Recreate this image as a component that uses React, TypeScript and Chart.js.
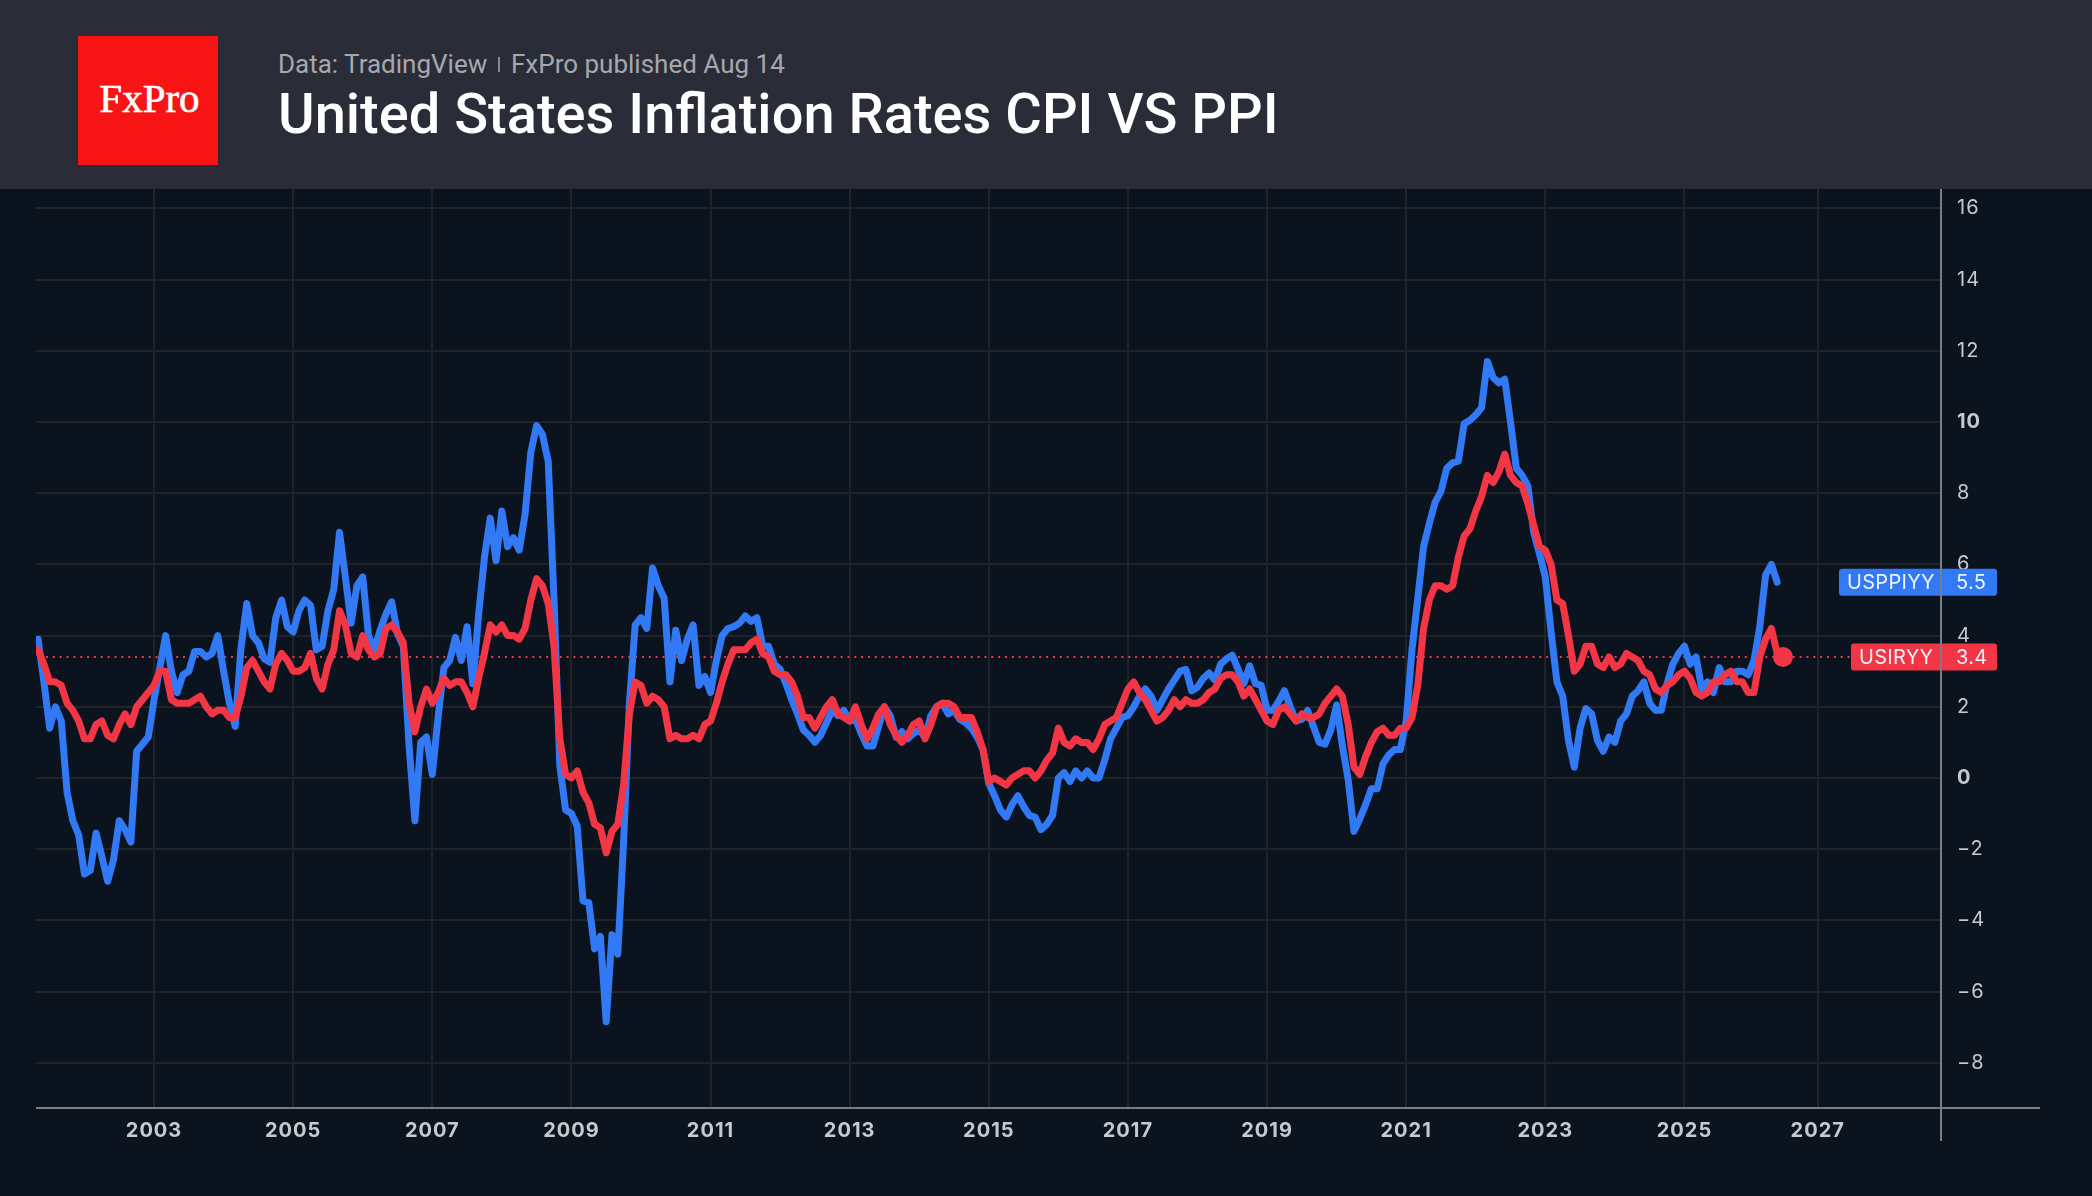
import React, { useEffect, useRef } from 'react';
import { Chart, registerables } from 'chart.js';

Chart.register(...registerables);

// months counted from Jan 2003, the series start in May 2001
const firstMonth = -20;

const ppiValues = [
  3.9, 2.7, 1.4, 2.0, 1.6, -0.4, -1.2, -1.6,
  -2.7, -2.6, -1.55, -2.2, -2.9, -2.3, -1.2, -1.45, -1.8, 0.75, 0.95, 1.15,
  2.2, 3.1, 4.0, 3.0, 2.4, 2.9, 3.0, 3.55, 3.55, 3.4, 3.5, 4.0,
  3.0, 2.1, 1.45, 3.65, 4.9, 4.0, 3.8, 3.35, 3.25, 4.5, 5.0, 4.25,
  4.1, 4.7, 5.0, 4.85, 3.6, 3.7, 4.7, 5.3, 6.9, 5.65, 4.35, 5.4,
  5.65, 4.0, 3.6, 4.15, 4.6, 4.95, 4.05, 3.7, 0.9, -1.2, 1.0, 1.15,
  0.1, 1.7, 3.1, 3.3, 3.95, 3.3, 4.25, 2.65, 4.6, 6.2, 7.3, 6.1,
  7.5, 6.5, 6.75, 6.4, 7.4, 9.15, 9.9, 9.65, 8.9, 5.0, 0.35, -0.9,
  -1.0, -1.35, -3.45, -3.5, -4.8, -4.45, -6.85, -4.4, -4.95, -1.8, 2.1, 4.3,
  4.5, 4.2, 5.9, 5.4, 5.05, 2.7, 4.15, 3.3, 3.9, 4.3, 2.6, 2.85,
  2.4, 3.3, 4.0, 4.2, 4.25, 4.35, 4.55, 4.4, 4.5, 3.7, 3.7, 3.2,
  3.05, 2.65, 2.2, 1.8, 1.35, 1.2, 1.0, 1.2, 1.55, 1.9, 1.75, 1.9,
  1.6, 1.65, 1.25, 0.9, 0.9, 1.45, 2.0, 1.75, 1.15, 1.3, 1.1, 1.25,
  1.35, 1.15, 1.75, 2.0, 2.1, 1.8, 1.9, 1.65, 1.55, 1.4, 1.15, 0.8,
  -0.15, -0.5, -0.9, -1.1, -0.75, -0.5, -0.8, -1.05, -1.1, -1.45, -1.3, -1.05,
  0.0, 0.15, -0.1, 0.2, 0.0, 0.2, 0.0, 0.0, 0.5, 1.1, 1.4, 1.7,
  1.75, 2.0, 2.3, 2.5, 2.3, 1.9, 2.2, 2.5, 2.75, 3.0, 3.05, 2.45,
  2.55, 2.8, 2.95, 2.75, 3.2, 3.35, 3.45, 3.05, 2.65, 3.15, 2.65, 2.6,
  1.9, 1.9, 2.15, 2.45, 2.0, 1.6, 1.65, 1.9, 1.45, 1.0, 0.95, 1.35,
  2.05, 0.9, -0.05, -1.5, -1.15, -0.75, -0.3, -0.3, 0.4, 0.65, 0.8, 0.8,
  1.6, 3.6, 5.05, 6.5, 7.15, 7.75, 8.05, 8.7, 8.85, 8.9, 9.95, 10.05,
  10.2, 10.4, 11.7, 11.25, 11.1, 11.2, 10.0, 8.7, 8.5, 8.2, 6.9, 6.3,
  5.65, 4.1, 2.7, 2.3, 1.05, 0.3, 1.4, 1.95, 1.8, 1.05, 0.75, 1.15,
  1.0, 1.6, 1.8, 2.3, 2.45, 2.7, 2.1, 1.9, 1.9, 2.65, 3.2, 3.5,
  3.7, 3.2, 3.4, 2.5, 2.7, 2.4, 3.1, 2.7, 2.7, 3.0, 3.0, 2.9,
  3.3, 4.25, 5.7, 6.0, 5.5,
];

const cpiValues = [
  3.6, 3.2, 2.7, 2.7, 2.6, 2.1, 1.9, 1.6,
  1.1, 1.1, 1.5, 1.6, 1.2, 1.1, 1.5, 1.8, 1.5, 2.0, 2.2, 2.4,
  2.6, 3.0, 3.0, 2.2, 2.1, 2.1, 2.1, 2.2, 2.3, 2.0, 1.8, 1.9,
  1.9, 1.7, 1.7, 2.3, 3.1, 3.3, 3.0, 2.7, 2.5, 3.2, 3.5, 3.3,
  3.0, 3.0, 3.1, 3.5, 2.8, 2.5, 3.2, 3.6, 4.7, 4.3, 3.5, 3.4,
  4.0, 3.6, 3.4, 3.5, 4.2, 4.3, 4.1, 3.8, 2.1, 1.3, 2.0, 2.5,
  2.1, 2.4, 2.8, 2.6, 2.7, 2.7, 2.4, 2.0, 2.8, 3.5, 4.3, 4.1,
  4.3, 4.0, 4.0, 3.9, 4.2, 5.0, 5.6, 5.4, 4.9, 3.7, 1.1, 0.1,
  0.0, 0.2, -0.4, -0.7, -1.3, -1.4, -2.1, -1.5, -1.3, -0.2, 1.8, 2.7,
  2.6, 2.1, 2.3, 2.2, 2.0, 1.1, 1.2, 1.1, 1.1, 1.2, 1.1, 1.5,
  1.6, 2.1, 2.7, 3.2, 3.6, 3.6, 3.6, 3.8, 3.9, 3.5, 3.4, 3.0,
  2.9, 2.9, 2.7, 2.3, 1.7, 1.7, 1.4, 1.7, 2.0, 2.2, 1.8, 1.7,
  1.6, 2.0, 1.5, 1.1, 1.4, 1.8, 2.0, 1.5, 1.2, 1.0, 1.2, 1.5,
  1.6, 1.1, 1.5, 2.0, 2.1, 2.1, 2.0, 1.7, 1.7, 1.7, 1.3, 0.8,
  -0.1, 0.0, -0.1, -0.2, 0.0, 0.1, 0.2, 0.2, 0.0, 0.2, 0.5, 0.7,
  1.4, 1.0, 0.9, 1.1, 1.0, 1.0, 0.8, 1.1, 1.5, 1.6, 1.7, 2.1,
  2.5, 2.7, 2.4, 2.2, 1.9, 1.6, 1.7, 1.9, 2.2, 2.0, 2.2, 2.1,
  2.1, 2.2, 2.4, 2.5, 2.8, 2.9, 2.9, 2.7, 2.3, 2.5, 2.2, 1.9,
  1.6, 1.5, 1.9, 2.0, 1.8, 1.6, 1.8, 1.7, 1.7, 1.8, 2.1, 2.3,
  2.5, 2.3, 1.5, 0.3, 0.1, 0.6, 1.0, 1.3, 1.4, 1.2, 1.2, 1.4,
  1.4, 1.7, 2.6, 4.2, 5.0, 5.4, 5.4, 5.3, 5.4, 6.2, 6.8, 7.0,
  7.5, 7.9, 8.5, 8.3, 8.6, 9.1, 8.5, 8.3, 8.2, 7.7, 7.1, 6.5,
  6.4, 6.0, 5.0, 4.9, 4.0, 3.0, 3.2, 3.7, 3.7, 3.2, 3.1, 3.4,
  3.1, 3.2, 3.5, 3.4, 3.3, 3.0, 2.9, 2.5, 2.4, 2.6, 2.7, 2.9,
  3.0, 2.8, 2.4, 2.3, 2.4, 2.7, 2.7, 2.9, 3.0, 2.7, 2.7, 2.4,
  2.4, 3.4, 3.9, 4.2, 3.5, 3.4,
];

const yearLabels = ['2003', '2005', '2007', '2009', '2011', '2013', '2015', '2017', '2019', '2021', '2023', '2025', '2027'];
const yearTicks = [0, 24, 48, 72, 96, 120, 144, 168, 192, 216, 240, 264, 287];
const valueTicks = [-8, -6, -4, -2, 0, 2, 4, 6, 8, 10, 12, 14, 16];
const boldValueTicks = [0, 10];

const PPI_NAME = 'USPPIYY';
const CPI_NAME = 'USIRYY';
const BLUE = '#3179f5';
const RED = '#f23645';
const AXIS_FONT = 'Inter, "Noto Sans", sans-serif';

const toPoints = (values: number[]) => values.map((y, i) => ({ x: firstMonth + i, y }));

// TradingView style tags on the price axis, plus the axis lines that run past the plot
const axisOverlay = {
  id: 'axisOverlay',
  beforeDraw(chart: any) {
    chart.ctx.letterSpacing = '1px';
  },
  afterDraw(chart: any) {
    const { ctx, chartArea, scales } = chart;
    const drawTag = (name: string, value: number, color: string, left: number) => {
      const y = scales.y.getPixelForValue(value);
      ctx.save();
      ctx.letterSpacing = '0.3px';
      ctx.fillStyle = color;
      ctx.beginPath();
      ctx.roundRect(left, y - 13.5, 1997 - left, 27, 3);
      ctx.fill();
      ctx.fillStyle = '#eef3fb';
      ctx.font = `20px ${AXIS_FONT}`;
      ctx.textBaseline = 'middle';
      ctx.textAlign = 'left';
      ctx.fillText(name, left + 8, y + 1);
      ctx.fillText(value.toFixed(1), 1956, y + 1);
      ctx.restore();
    };
    drawTag(PPI_NAME, ppiValues[ppiValues.length - 1], BLUE, 1839);
    drawTag(CPI_NAME, cpiValues[cpiValues.length - 1], RED, 1851);

    ctx.save();
    ctx.strokeStyle = '#7b7d84';
    ctx.lineWidth = 2;
    ctx.beginPath();
    ctx.moveTo(chartArea.left, chartArea.bottom);
    ctx.lineTo(2040, chartArea.bottom);
    ctx.moveTo(chartArea.right, chartArea.top);
    ctx.lineTo(chartArea.right, chartArea.bottom + 33);
    ctx.stroke();
    ctx.restore();
  },
};

export default function App() {
  const canvasRef = useRef<HTMLCanvasElement>(null);

  useEffect(() => {
    document.body.style.margin = '0';
    document.body.style.background = '#0b131f';
    if (!canvasRef.current) return;

    const lastCpi = cpiValues[cpiValues.length - 1];
    const chart = new Chart(canvasRef.current, {
      type: 'line',
      data: {
        datasets: [
          {
            label: CPI_NAME,
            data: toPoints(cpiValues),
            borderColor: RED,
            backgroundColor: RED,
            borderWidth: 7,
            borderJoinStyle: 'round',
            borderCapStyle: 'round',
            tension: 0,
            pointRadius: (ctx: any) => (ctx.dataIndex === cpiValues.length - 1 ? 10 : 0),
            pointBorderWidth: 0,
            order: 0,
          },
          {
            label: PPI_NAME,
            data: toPoints(ppiValues),
            borderColor: BLUE,
            borderWidth: 7,
            borderJoinStyle: 'round',
            borderCapStyle: 'round',
            tension: 0,
            pointRadius: 0,
            order: 1,
          },
          {
            label: 'last price',
            data: [
              { x: -21, y: lastCpi },
              { x: 309, y: lastCpi },
            ],
            borderColor: RED,
            borderWidth: 2,
            borderDash: [2, 4.85],
            pointRadius: 0,
            order: 2,
          },
        ],
      },
      options: {
        animation: false,
        responsive: false,
        devicePixelRatio: 1,
        events: [],
        layout: { autoPadding: false, padding: { left: 36, top: 0, right: 0, bottom: 0 } },
        plugins: { legend: { display: false }, tooltip: { enabled: false } },
        scales: {
          x: {
            type: 'linear',
            min: -20.36,
            max: 308.26,
            border: { display: false },
            grid: { color: '#212326', lineWidth: 2, drawTicks: false },
            afterBuildTicks: (scale: any) => {
              scale.ticks = yearTicks.map((value) => ({ value }));
            },
            afterFit: (scale: any) => {
              scale.height = 88;
              scale.paddingLeft = 0;
              scale.paddingRight = 0;
            },
            ticks: {
              autoSkip: false,
              maxRotation: 0,
              minRotation: 0,
              padding: 11,
              color: '#c8c9cd',
              font: { family: AXIS_FONT, size: 20, weight: 'bold' },
              callback: (value: any) => yearLabels[yearTicks.indexOf(Number(value))],
            },
          },
          y: {
            type: 'linear',
            position: 'right',
            min: -9.27,
            max: 16.545,
            border: { display: false },
            grid: { color: '#212326', lineWidth: 2, drawTicks: false },
            afterBuildTicks: (scale: any) => {
              scale.ticks = valueTicks.map((value) => ({ value }));
            },
            afterFit: (scale: any) => {
              scale.width = 151;
              scale.paddingTop = 0;
              scale.paddingBottom = 0;
            },
            ticks: {
              autoSkip: false,
              padding: 16,
              color: '#c8c9cd',
              font: (ctx: any) => ({
                family: AXIS_FONT,
                size: 20,
                weight: boldValueTicks.includes(ctx.tick?.value) ? 'bold' : 'normal',
              }),
              callback: (value: any) => String(value).replace('-', '\u2212'),
            },
          },
        },
      },
      plugins: [axisOverlay],
    } as any);

    return () => chart.destroy();
  }, []);

  return (
    <div style={{ position: 'relative', width: 2092, height: 1196, overflow: 'hidden', background: '#0b131f' }}>
      <div style={{ position: 'absolute', left: 0, top: 0, width: 2092, height: 189, background: '#2a2d38', fontFamily: 'Roboto, sans-serif' }}>
        <div
          style={{
            position: 'absolute',
            left: 78,
            top: 36,
            width: 140,
            height: 129,
            background: '#f81414',
            color: '#fff',
            fontFamily: '"Liberation Serif", serif',
            fontWeight: 'normal',
            WebkitTextStroke: '0.6px #fff',
            fontSize: 41,
            lineHeight: '125px',
            textAlign: 'center',
            paddingLeft: 3,
            boxSizing: 'border-box',
          }}
        >
          FxPro
        </div>
        <div style={{ position: 'absolute', left: 278, top: 48, fontSize: 26, lineHeight: '32px', color: '#a7a8ae', whiteSpace: 'nowrap' }}>
          Data: TradingView
        </div>
        <div style={{ position: 'absolute', left: 498, top: 57, width: 2, height: 15, background: '#8a8b92' }} />
        <div style={{ position: 'absolute', left: 511, top: 48, fontSize: 26, lineHeight: '32px', color: '#a7a8ae', whiteSpace: 'nowrap' }}>
          FxPro published Aug 14
        </div>
        <div style={{ position: 'absolute', left: 278, top: 79, fontSize: 56, lineHeight: '70px', fontWeight: 500, color: '#fff', whiteSpace: 'nowrap' }}>
          United States Inflation Rates CPI VS PPI
        </div>
      </div>
      <canvas
        ref={canvasRef}
        width={2092}
        height={1007}
        style={{ position: 'absolute', left: 0, top: 189, display: 'block' }}
      />
    </div>
  );
}
